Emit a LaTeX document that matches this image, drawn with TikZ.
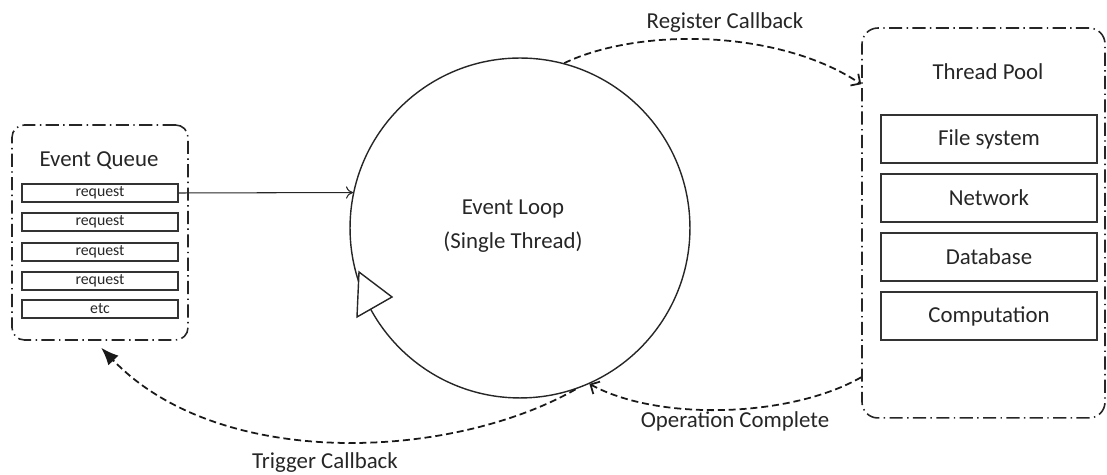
\documentclass[tikz,border=0pt]{standalone}
\usepackage{fontspec}
\setmainfont{Carlito}
\usetikzlibrary{arrows.meta,calc}

\begin{document}
\begin{tikzpicture}[x=0.02cm,y=-0.02cm]
\tikzstyle{every node}+=[inner sep=0pt, text=black!85]
\tikzstyle{group}=[draw=black!85, rounded corners=7pt, line width=0.9pt, dash pattern=on 7.5pt off 2.5pt on 0.8pt off 2.5pt]
\tikzstyle{reqbox}=[draw=black!80, line width=0.6pt, minimum width=3.12cm, minimum height=0.36cm, font=\fontsize{9}{10}\selectfont]
\tikzstyle{poolbox}=[draw=black!80, line width=0.6pt, minimum width=4.32cm, minimum height=0.96cm, font=\fontsize{13}{15}\selectfont]
\tikzstyle{title}=[font=\fontsize{13}{15}\selectfont]
\tikzstyle{flow}=[draw=black!90, line width=1pt, dash pattern=on 4pt off 2.2pt]
\useasboundingbox (0,0) rectangle (1107,475);
\node [group, minimum width=3.52cm, minimum height=4.3cm] (queue) at (100,232.5) {};
\node [title] (queuetitle) at (99,161) {Event Queue};
\node [reqbox] (r1) at (100,193) {request};
\node [reqbox] (r2) at (100,222) {request};
\node [reqbox] (r3) at (100,252) {request};
\node [reqbox] (r4) at (100,281) {request};
\node [reqbox] (r5) at (100,309) {etc};
\node [circle, draw=black!85, line width=0.8pt, minimum size=6.8cm] (loop) at (520,228) {};
\node [title, align=center, font=\fontsize{13}{19.5}\selectfont] (looptext) at (513,226) {Event Loop\\(Single Thread)};
\draw [fill=white, draw=black!85, line width=0.8pt] (359,272) -- (392,297) -- (357,317) -- cycle;
\node [group, rounded corners=9pt, minimum width=4.86cm, minimum height=7.8cm] (pool) at (983.5,223) {};
\node [title] (pooltitle) at (988,72) {Thread Pool};
\node [poolbox] (files) at (989,139) {File system};
\node [poolbox] (net) at (989,198) {Network};
\node [poolbox] (db) at (989,257) {Database};
\node [poolbox] (comp) at (989,316) {Computation};
\coordinate (regend) at ($(pool.north west)+(0,57)$);
\coordinate (opstart) at ($(pool.north west)+(0,350)$);
\coordinate (trigend) at ($(queue.south west)+(90,7)$);
\draw [black!85, line width=0.6pt, -{To[length=4pt,width=7pt]}] (r1.east) -- (loop.168);
\draw [flow, -{Straight Barb[length=4pt,width=8pt]}] (loop.75) .. controls +(75,-36) and +(-82,-55) .. (regend);
\node [title] (regtext) at (725,23) {Register Callback};
\draw [flow, -{Straight Barb[length=4pt,width=8pt]}] (opstart) .. controls +(-70,40) and +(70,38) .. (loop.-66);
\node [title] (optext) at (735,421) {Operation Complete};
\draw [flow, -{Latex[length=10pt,width=8pt]}] (loop.-71) .. controls +(-125,71) and +(118,123) .. (trigend);
\node [title] (trigtext) at (325,463) {Trigger Callback};
\end{tikzpicture}
\end{document}
